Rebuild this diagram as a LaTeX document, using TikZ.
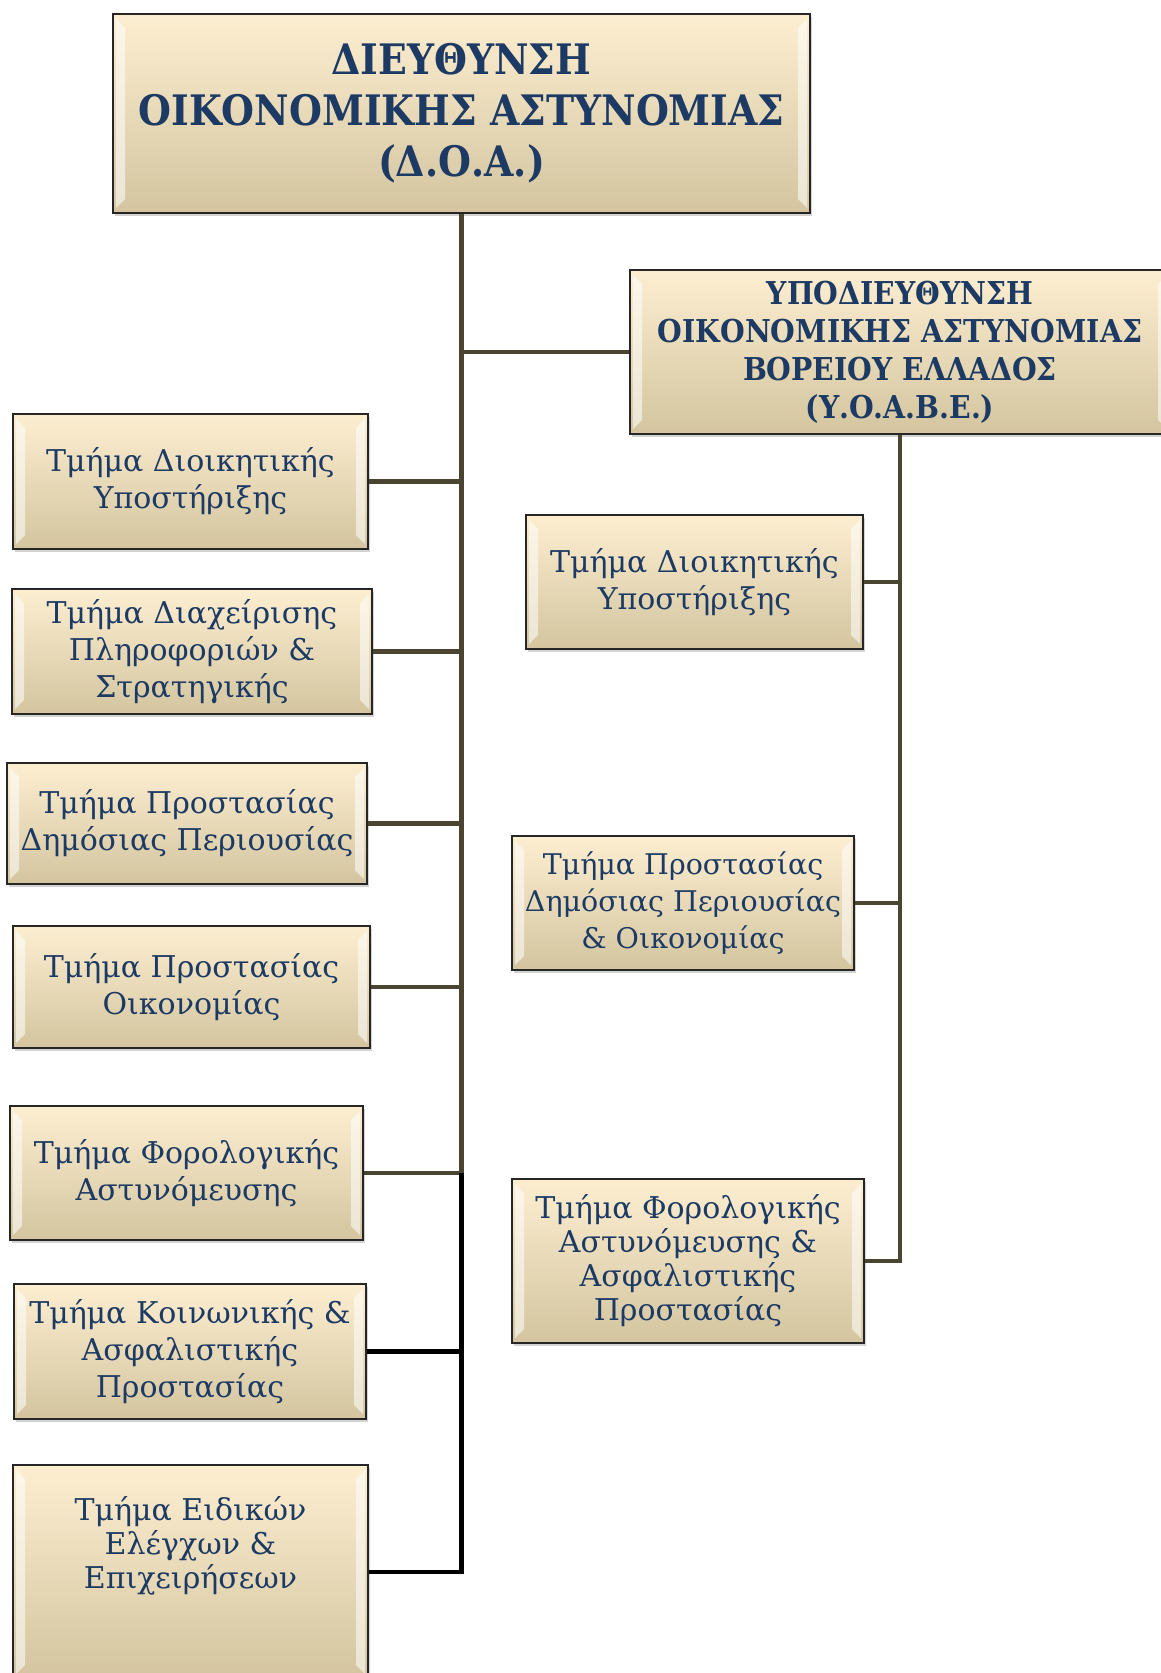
\documentclass[tikz,border=0pt]{standalone}
\usepackage{fontspec}
\setmainfont{DejaVu Serif}
\newfontfamily\headfont[FakeStretch=0.90]{DejaVu Serif}
\usetikzlibrary{shadows}
\definecolor{boxtop}{HTML}{FCEED0}
\definecolor{boxbot}{HTML}{D4C5A0}
\definecolor{navy}{HTML}{1C3A63}
\definecolor{olive}{HTML}{4A4530}
\tikzset{
	unit/.style={draw=black!85, line width=1.3pt, top color=boxtop, bottom color=boxbot,
		text=navy, align=center, inner sep=0pt,
		drop shadow={opacity=0.35, shadow xshift=2pt, shadow yshift=-3pt},
		path picture={
			% left and right bevel
			\fill[white,opacity=0.55] ([shift={(3pt,-5pt)}]path picture bounding box.north west)
				-- ([shift={(12pt,-14pt)}]path picture bounding box.north west)
				-- ([shift={(12pt,14pt)}]path picture bounding box.south west)
				-- ([shift={(3pt,5pt)}]path picture bounding box.south west) -- cycle;
			\fill[white,opacity=0.55] ([shift={(-3pt,-5pt)}]path picture bounding box.north east)
				-- ([shift={(-12pt,-14pt)}]path picture bounding box.north east)
				-- ([shift={(-12pt,14pt)}]path picture bounding box.south east)
				-- ([shift={(-3pt,5pt)}]path picture bounding box.south east) -- cycle;
		}},
	head/.style={unit, font=\headfont\bfseries\fontsize{42}{51}\selectfont},
	subhead/.style={unit, font=\headfont\bfseries\fontsize{31.5}{38}\selectfont},
	dept/.style={unit, font=\fontsize{30}{37}\selectfont},
	orgline/.style={draw=olive, line width=4.5pt},
	blackline/.style={draw=black, line width=4.5pt}
}
% branch from a box to the vertical line below #2
\newcommand{\branch}[3]{\draw[#3] (#1.east) -- (#1.east -| #2.south);}

\begin{document}
\begin{tikzpicture}[x=1pt, y=-1pt]
	\useasboundingbox (0,0) rectangle (1161,1673);
	\clip (0,0) rectangle (1161,1673);

	% head of the directorate
	\node[head, minimum width=697, minimum height=199] (doa) at (461.5,113.5)
		{ΔΙΕΥΘΥΝΣΗ\\ΟΙΚΟΝΟΜΙΚΗΣ ΑΣΤΥΝΟΜΙΑΣ\\(Δ.Ο.Α.)};
	\node[subhead, minimum width=540, minimum height=164] (yoab) at (900,352)
		{ΥΠΟΔΙΕΥΘΥΝΣΗ\\ΟΙΚΟΝΟΜΙΚΗΣ ΑΣΤΥΝΟΜΙΑΣ\\ΒΟΡΕΙΟΥ ΕΛΛΑΔΟΣ\\(Υ.Ο.Α.Β.Ε.)};

	% departments of the directorate
	\node[dept, minimum width=355, minimum height=135] (t1) at (190.5,481.5)
		{Τμήμα Διοικητικής\\Υποστήριξης};
	\node[dept, minimum width=360, minimum height=125] (t2) at (192,651.5)
		{Τμήμα Διαχείρισης\\Πληροφοριών \&\\Στρατηγικής};
	\node[dept, minimum width=360, minimum height=121] (t3) at (187,823.5)
		{Τμήμα Προστασίας\\Δημόσιας Περιουσίας};
	\node[dept, minimum width=357, minimum height=122] (t4) at (191.5,987)
		{Τμήμα Προστασίας\\Οικονομίας};
	\node[dept, minimum width=353, minimum height=134] (t5) at (186.5,1173)
		{Τμήμα Φορολογικής\\Αστυνόμευσης};
	\node[dept, minimum width=352, minimum height=135] (t6) at (190,1351.5)
		{Τμήμα Κοινωνικής \&\\Ασφαλιστικής\\Προστασίας};
	\node[dept, minimum width=355, minimum height=214, text depth=60pt,
		font=\fontsize{30}{34}\selectfont] (t7) at (190.5,1572)
		{Τμήμα Ειδικών\\Ελέγχων \&\\Επιχειρήσεων};

	% departments of the subdirectorate
	\node[dept, minimum width=337, minimum height=134] (r1) at (694.5,582)
		{Τμήμα Διοικητικής\\Υποστήριξης};
	\node[dept, minimum width=342, minimum height=134, font=\fontsize{28.5}{37}\selectfont] (r2) at (683,903)
		{Τμήμα Προστασίας\\Δημόσιας Περιουσίας\\\& Οικονομίας};
	\node[dept, minimum width=352, minimum height=164, font=\fontsize{30}{34}\selectfont] (r3) at (688,1261)
		{Τμήμα Φορολογικής\\Αστυνόμευσης \&\\Ασφαλιστικής\\Προστασίας};

	% lines
	\draw[orgline] (doa.south) -- (t5.east -| doa.south) -- (t5.east);
	\draw[orgline] (yoab.west) -- (yoab.west -| doa.south);
	\branch{t1}{doa}{orgline}
	\branch{t2}{doa}{orgline}
	\branch{t3}{doa}{orgline}
	\branch{t4}{doa}{orgline}
	\draw[blackline] (t5.east -| doa.south) |- (t7.east);
	\branch{t6}{doa}{blackline}
	\draw[orgline] (yoab.south) |- (r3.east);
	\branch{r1}{yoab}{orgline}
	\branch{r2}{yoab}{orgline}
\end{tikzpicture}
\end{document}
